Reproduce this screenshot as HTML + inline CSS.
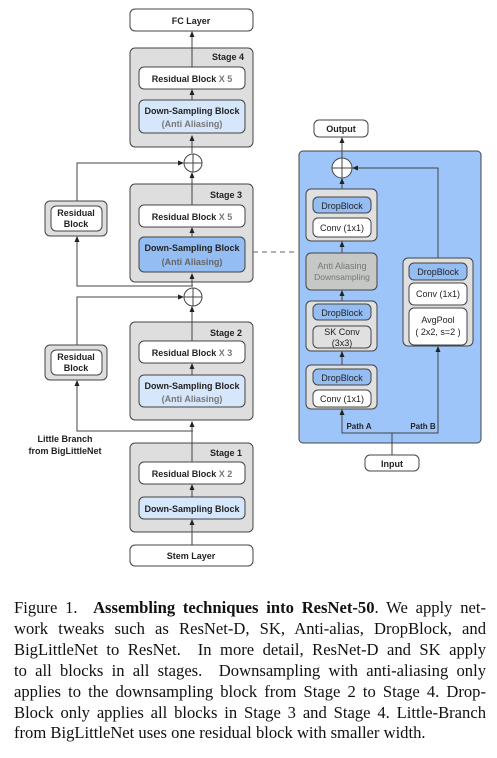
<!DOCTYPE html>
<html><head><meta charset="utf-8"><style>
body{margin:0;background:#fff;width:497px;height:758px;overflow:hidden;position:relative}
svg{position:absolute;left:0;top:0}
.cap{position:absolute;left:14px;top:598px;width:472px;font-family:"Liberation Serif",serif;font-size:16.6px;line-height:20.9px;color:#111}
.cap .l{display:block;white-space:nowrap;text-align:justify;text-align-last:justify}
.cap .l:last-child{text-align-last:left}
text{font-family:"Liberation Sans",sans-serif}
</style></head><body>
<svg width="497" height="590" viewBox="0 0 497 590">
<defs><marker id="a" markerWidth="6" markerHeight="6" refX="5" refY="3" orient="auto"><path d="M0,0.5 L6,3 L0,5.5z" fill="#222"/></marker></defs>
<g stroke="#444" stroke-width="1" font-size="9" font-weight="bold" text-anchor="middle">
<rect x="130" y="9" width="123" height="22" rx="5" fill="#fff"/>
<text x="191" y="24" stroke="none" fill="#222">FC Layer</text>
<rect x="130" y="48" width="123" height="99" rx="5" fill="#dedede"/>
<text x="228" y="60" stroke="none" fill="#222">Stage 4</text>
<rect x="139" y="67" width="106" height="22" rx="5" fill="#fff"/>
<text x="192" y="82" stroke="none" fill="#222">Residual Block <tspan fill="#777">X 5</tspan></text>
<rect x="139" y="100" width="106" height="33" rx="5" fill="#d6e6fb"/>
<text x="192" y="114" stroke="none" fill="#222">Down-Sampling Block</text>
<text x="192" y="127" stroke="none" fill="#777">(Anti Aliasing)</text>
<rect x="130" y="184" width="123" height="98" rx="5" fill="#dedede"/>
<text x="226" y="198" stroke="none" fill="#222">Stage 3</text>
<rect x="139" y="205" width="106" height="22" rx="5" fill="#fff"/>
<text x="192" y="220" stroke="none" fill="#222">Residual Block <tspan fill="#777">X 5</tspan></text>
<rect x="139" y="237" width="106" height="35" rx="5" fill="#94bdf3"/>
<text x="192" y="251" stroke="none" fill="#222">Down-Sampling Block</text>
<text x="192" y="265" stroke="none" fill="#666">(Anti Aliasing)</text>
<rect x="130" y="322" width="123" height="98" rx="5" fill="#dedede"/>
<text x="226" y="336" stroke="none" fill="#222">Stage 2</text>
<rect x="139" y="341" width="106" height="22" rx="5" fill="#fff"/>
<text x="192" y="356" stroke="none" fill="#222">Residual Block <tspan fill="#777">X 3</tspan></text>
<rect x="139" y="375" width="106" height="32" rx="5" fill="#d6e6fb"/>
<text x="192" y="389" stroke="none" fill="#222">Down-Sampling Block</text>
<text x="192" y="402" stroke="none" fill="#777">(Anti Aliasing)</text>
<rect x="130" y="443" width="123" height="89" rx="5" fill="#dedede"/>
<text x="226" y="456" stroke="none" fill="#222">Stage 1</text>
<rect x="139" y="462" width="106" height="22" rx="5" fill="#fff"/>
<text x="192" y="477" stroke="none" fill="#222">Residual Block <tspan fill="#777">X 2</tspan></text>
<rect x="139" y="497" width="106" height="22" rx="5" fill="#d6e6fb"/>
<text x="192" y="512" stroke="none" fill="#222">Down-Sampling Block</text>
<rect x="130" y="545" width="123" height="21" rx="5" fill="#fff"/>
<text x="191" y="559" stroke="none" fill="#222">Stem Layer</text>
<rect x="45" y="201" width="62" height="35" rx="5" fill="#dedede"/>
<rect x="51" y="206" width="51" height="25" rx="5" fill="#fff"/>
<text x="76" y="216" stroke="none" fill="#222">Residual</text>
<text x="76" y="227" stroke="none" fill="#222">Block</text>
<rect x="45" y="345" width="62" height="35" rx="5" fill="#dedede"/>
<rect x="51" y="350" width="51" height="25" rx="5" fill="#fff"/>
<text x="76" y="360" stroke="none" fill="#222">Residual</text>
<text x="76" y="371" stroke="none" fill="#222">Block</text>
<text x="65" y="442" stroke="none" fill="#222">Little Branch</text>
<text x="65" y="454" stroke="none" fill="#222">from BigLittleNet</text>
<g fill="#fff"><circle cx="193" cy="163" r="9"/><circle cx="193" cy="297" r="9"/></g>
<path d="M184,163h18M193,154v18M184,297h18M193,288v18" fill="none"/>
<g fill="none" marker-end="url(#a)">
<path d="M192,545V520"/><path d="M192,497V485"/><path d="M192,462V422"/>
<path d="M192,375V364"/><path d="M192,341V307"/>
<path d="M192,286V274"/><path d="M192,237V228"/><path d="M192,205V173"/>
<path d="M192,153V136"/><path d="M192,100V90"/><path d="M192,67V32"/>
<path d="M193,431H77V381"/><path d="M77,345V297H183"/>
<path d="M193,286H77V237"/><path d="M77,201V163H183"/>
</g>
<path d="M253,252H298" stroke-dasharray="5,4" fill="none" stroke="#666"/>
<rect x="314" y="120" width="54" height="17" rx="5" fill="#fff"/>
<text x="341" y="132" stroke="none" fill="#222">Output</text>
<rect x="299" y="151" width="182" height="292" rx="4" fill="#9ec5fa"/>
<rect x="365" y="455" width="54" height="16" rx="5" fill="#fff"/>
<text x="392" y="467" stroke="none" fill="#222">Input</text>
<g font-weight="normal">
<rect x="306" y="189" width="71" height="52" rx="5" fill="#e0e0e0"/>
<rect x="313" y="197" width="58" height="16" rx="5" fill="#94bdf3"/>
<text x="342" y="209" stroke="none" fill="#222">DropBlock</text>
<rect x="313" y="218" width="58" height="19" rx="5" fill="#fff"/>
<text x="342" y="231" stroke="none" fill="#222">Conv (1x1)</text>
<rect x="306" y="253" width="71" height="37" rx="5" fill="#c6c8c6"/>
<text x="342" y="269" stroke="none" fill="#777">Anti Aliasing</text>
<text x="342" y="280" stroke="none" fill="#777" font-size="8.5">Downsampling</text>
<rect x="306" y="301" width="71" height="50" rx="5" fill="#e0e0e0"/>
<rect x="313" y="304" width="58" height="16" rx="5" fill="#94bdf3"/>
<text x="342" y="316" stroke="none" fill="#222">DropBlock</text>
<rect x="313" y="326" width="58" height="22" rx="5" fill="#e0e0e0"/>
<text x="342" y="335" stroke="none" fill="#222">SK Conv</text>
<text x="342" y="346" stroke="none" fill="#222">(3x3)</text>
<rect x="306" y="365" width="71" height="44" rx="5" fill="#e0e0e0"/>
<rect x="313" y="369" width="58" height="16" rx="5" fill="#94bdf3"/>
<text x="342" y="381" stroke="none" fill="#222">DropBlock</text>
<rect x="313" y="390" width="58" height="17" rx="5" fill="#fff"/>
<text x="342" y="402" stroke="none" fill="#222">Conv (1x1)</text>
<rect x="403" y="258" width="70" height="88" rx="5" fill="#e0e0e0"/>
<rect x="409" y="263" width="58" height="17" rx="5" fill="#94bdf3"/>
<text x="438" y="275" stroke="none" fill="#222">DropBlock</text>
<rect x="409" y="283" width="58" height="22" rx="5" fill="#fff"/>
<text x="438" y="297" stroke="none" fill="#222">Conv (1x1)</text>
<rect x="409" y="308" width="58" height="37" rx="5" fill="#fff"/>
<text x="438" y="323" stroke="none" fill="#222">AvgPool</text>
<text x="438" y="335" stroke="none" fill="#222">( 2x2, s=2 )</text>
</g>
<text x="359" y="429" stroke="none" fill="#222" font-size="8">Path A</text>
<text x="423" y="429" stroke="none" fill="#222" font-size="8">Path B</text>
<circle cx="342" cy="168" r="10" fill="#fff"/>
<path d="M332,168h20M342,158v20" fill="none"/>
<g fill="none" marker-end="url(#a)">
<path d="M392,455V433H342V410"/><path d="M392,433H438V347"/>
<path d="M342,365V352"/><path d="M342,301V291"/><path d="M342,253V242"/>
<path d="M342,189V179"/><path d="M438,258V168H353"/><path d="M342,158V138"/>
</g>
</g>
</svg>
<div class="cap">
<span class="l">Figure 1.&nbsp; <b>Assembling techniques into ResNet-50</b>. We apply net-</span>
<span class="l">work tweaks such as ResNet-D, SK, Anti-alias, DropBlock, and</span>
<span class="l">BigLittleNet to ResNet.&nbsp; In more detail, ResNet-D and SK apply</span>
<span class="l">to all blocks in all stages.&nbsp; Downsampling with anti-aliasing only</span>
<span class="l">applies to the downsampling block from Stage 2 to Stage 4. Drop-</span>
<span class="l">Block only applies all blocks in Stage 3 and Stage 4. Little-Branch</span>
<span class="l">from BigLittleNet uses one residual block with smaller width.</span>
</div>
</body></html>
